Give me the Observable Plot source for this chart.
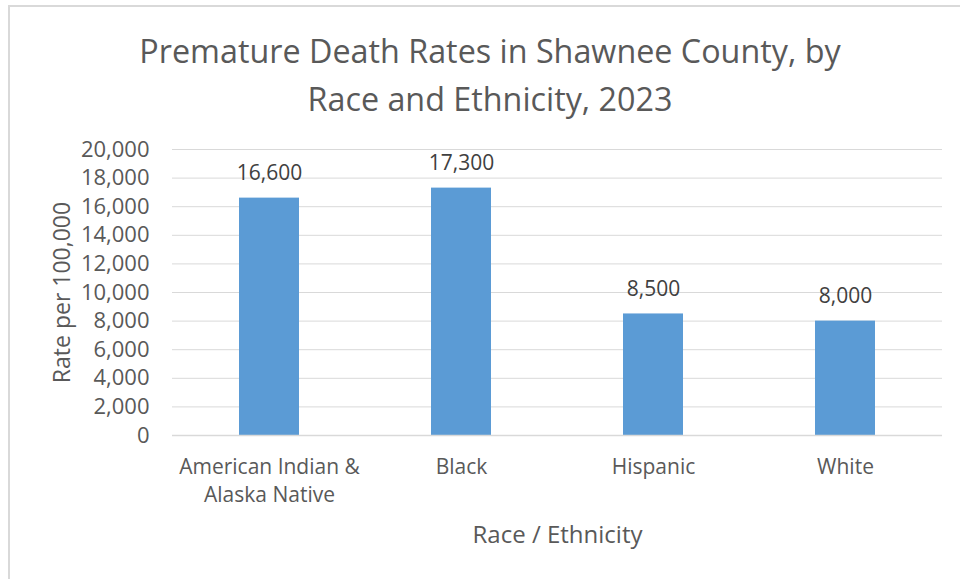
<!DOCTYPE html>
<html>
<head>
<meta charset="utf-8">
<script src="https://cdn.jsdelivr.net/npm/d3@7"></script>
<script src="https://cdn.jsdelivr.net/npm/@observablehq/plot@0.6"></script>
<style>
  html, body { margin: 0; padding: 0; background: #fff; }
  #wrap { position: relative; width: 960px; height: 579px; overflow: hidden; font-family: "Open Sans", sans-serif; }
  #frame { position: absolute; left: 8px; top: 5px; width: 980px; height: 600px; border-top: 2px solid #d9d9d9; border-left: 2px solid #d9d9d9; box-sizing: border-box; }
  #title { position: absolute; left: 0; top: 26px; width: 980px; text-align: center; color: #595959; font-size: 32.3px; line-height: 48px; }
  #chart { position: absolute; left: 0; top: 122px; }
  #chart svg text { font-family: "Open Sans", sans-serif; }
</style>
</head>
<body>
<div id="wrap">
  <div id="frame"></div>
  <div id="title">Premature Death Rates in Shawnee County, by<br>Race and Ethnicity, 2023</div>
  <div id="chart"></div>
</div>
<script>
const categories = ["American Indian & Alaska Native", "Black", "Hispanic", "White"];
const tickLabels = ["American Indian &\nAlaska Native", "Black", "Hispanic", "White"];
const rates = [16600, 17300, 8500, 8000];
const yTicks = [0, 2000, 4000, 6000, 8000, 10000, 12000, 14000, 16000, 18000, 20000];

const data = categories.map((c, i) => ({category: c, rate: rates[i]}));
const labelOf = new Map(categories.map((c, i) => [c, tickLabels[i]]));
const fmt = d3.format(",");

const chart = Plot.plot({
  width: 960,
  height: 457,
  marginLeft: 172,
  marginRight: 18,
  marginTop: 27,
  marginBottom: 144,
  style: {fontFamily: "'Open Sans', sans-serif", fontSize: "20px", background: "transparent", overflow: "visible"},
  x: {domain: categories, paddingInner: 0.688, paddingOuter: 0.344},
  y: {domain: [0, 20000]},
  marks: [
    Plot.gridY(yTicks, {stroke: "#d9d9d9", strokeOpacity: 1, strokeWidth: 1}),
    Plot.barY(data, {x: "category", y: "rate", fill: "#5b9bd5"}),
    Plot.ruleY([0], {stroke: "#d9d9d9", strokeWidth: 1.5}),
    Plot.text(data, {x: "category", y: "rate", text: d => fmt(d.rate), dy: -25, fill: "#404040", fontSize: 21}),
    Plot.axisY({ticks: yTicks, tickSize: 0, tickPadding: 23, tickFormat: fmt, fontSize: 22, color: "#595959", label: null}),
    Plot.axisY({ticks: [], fontSize: 23, color: "#595959",
      label: "Rate per 100,000", labelAnchor: "center", labelArrow: "none", labelOffset: 119}),
    Plot.axisX({tickSize: 0, tickPadding: 19, tickFormat: d => labelOf.get(d), fontSize: 21, color: "#595959", lineHeight: 1.33, label: null}),
    Plot.axisX({ticks: [], fontSize: 24, color: "#595959",
      label: "Race / Ethnicity", labelAnchor: "center", labelArrow: "none", labelOffset: 107})
  ]
});
document.getElementById("chart").appendChild(chart);
</script>
</body>
</html>
